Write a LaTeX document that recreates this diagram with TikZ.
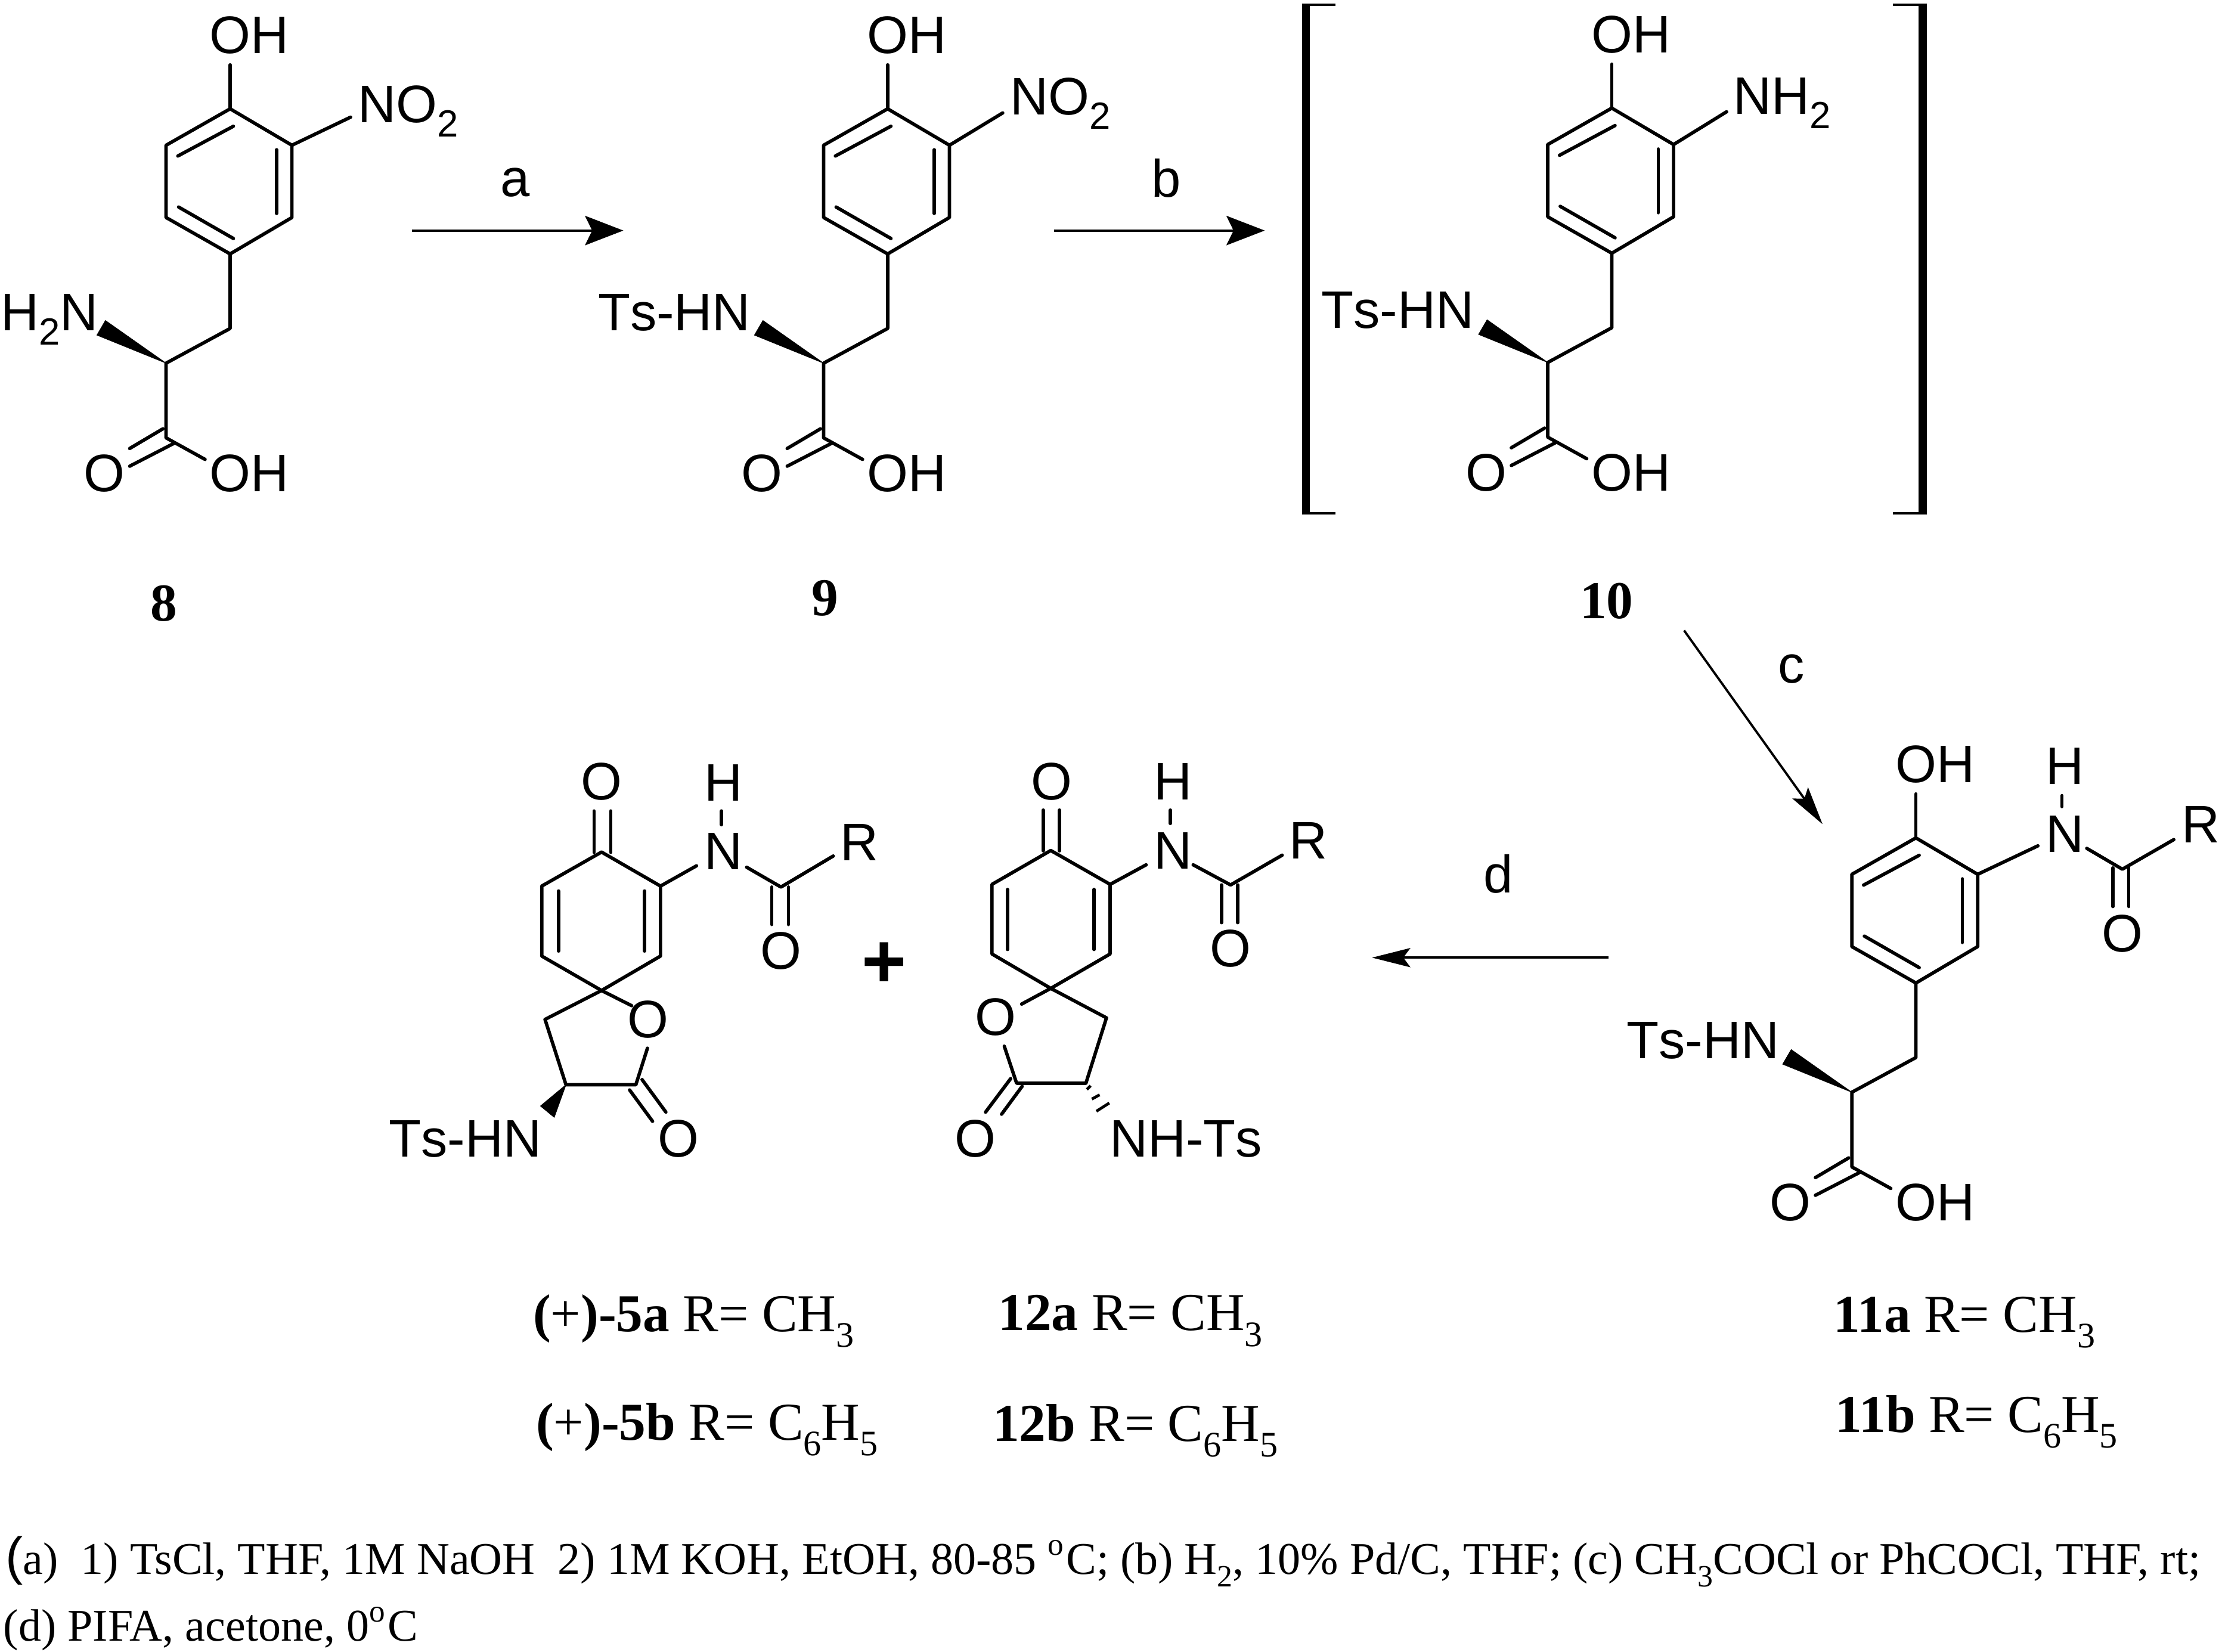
\documentclass[tikz,border=0pt]{standalone}
\usepackage{fontspec}
\setmainfont{Liberation Serif}
\newfontfamily\chemfont[Kerning=Off]{Liberation Sans}
\usetikzlibrary{arrows.meta}
\newcommand{\csub}[1]{\raisebox{-0.1cm}{\fontsize{7.6}{9}\selectfont #1}}
\newcommand{\tsub}[1]{\raisebox{-0.11cm}{\fontsize{7.2}{8}\selectfont #1}}
\newcommand{\nsub}[1]{\raisebox{-0.09cm}{\fontsize{6.2}{7}\selectfont #1}}
\tikzset{
  bond/.style={line width=.024cm,line cap=round,line join=round},
  wedgebond/.style={fill=black,draw=black,line width=.004cm,line join=miter},
  hashbar/.style={line width=.02cm},
  chemc/.style={font={\chemfont\fontsize{10.6}{12}\selectfont},inner sep=0pt,outer sep=0pt,anchor=base},
  chem/.style={font={\chemfont\fontsize{10.6}{12}\selectfont},inner sep=0pt,outer sep=0pt,anchor=base west,xshift=-0.01cm},
  plussign/.style={font={\chemfont\bfseries\fontsize{15.4}{18}\selectfont},inner sep=0pt,anchor=base},
  cmpd/.style={font={\fontsize{10.7}{13}\selectfont},inner sep=0pt,outer sep=0pt,anchor=base west},
  note/.style={font={\fontsize{9.1}{11}\selectfont},inner sep=0pt,outer sep=0pt,anchor=base west},
  rxnwide/.style={-{Stealth[length=.27cm,width=.207cm,inset=.05cm]},line width=.018cm},
  rxnslim/.style={-{Stealth[length=.27cm,width=.135cm,inset=.05cm]},line width=.016cm},
  brackv/.style={line width=.055cm},
  brackh/.style={line width=.018cm},
  arylacid/.pic={
    \coordinate (a1) at (162.4,76.8);
    \coordinate (a2) at (206,102.5);
    \coordinate (a3) at (206,153.5);
    \coordinate (a4) at (162.4,179.2);
    \coordinate (a5) at (117.2,153.5);
    \coordinate (a6) at (117.2,102.5);
    \coordinate (ohb) at (162.4,45.8);
    \coordinate (ch2) at (162.4,231.8);
    \coordinate (ch) at (117.2,256.3);
    \coordinate (co) at (117.2,309);
    \coordinate (w1) at (74.4,226.2);
    \coordinate (w2) at (68.4,236.5);
    \coordinate (d1a) at (125.5,110.1);
    \coordinate (d1b) at (164.7,89.1);
    \coordinate (d2a) at (195.2,105.7);
    \coordinate (d2b) at (195.2,150.6);
    \coordinate (d3a) at (126,146.1);
    \coordinate (d3b) at (164.7,168.3);
    \coordinate (oa) at (122.5,313);
    \coordinate (ob) at (91.5,329);
    \coordinate (oc) at (115,302.6);
    \coordinate (od) at (91.5,316.5);
    \coordinate (oh2) at (144.7,324.2);
    \draw[bond] (a1) -- (a2) -- (a3) -- (a4) -- (a5) -- (a6) -- cycle;
    \draw[bond] (a1) -- (ohb);
    \draw[bond] (a4) -- (ch2) -- (ch) -- (co) -- (oh2);
    \draw[bond] (d1a) -- (d1b);
    \draw[bond] (d2a) -- (d2b);
    \draw[bond] (d3a) -- (d3b);
    \draw[bond] (oa) -- (ob);
    \draw[bond] (oc) -- (od);
    \fill[wedgebond] (ch) -- (w1) -- (w2) -- cycle;
    \node[chem] (ohtop) at (149,37.8) {OH};
    \node[chemc] (ketO) at (73.8,346.8) {O};
    \node[chem] (acidOH) at (149,346.8) {OH};
  }
}
\begin{document}
\begin{tikzpicture}[x=0.01cm,y=-0.01cm]
\path[fill=white,use as bounding box] (0,0) rectangle (1568,1165.8);

% compounds 8, 9, 10, 11
\pic (m8) at (0,0) {arylacid};
\pic (m9) at (464,0) {arylacid};
\pic (mt) at (975,-0.5) {arylacid};
\pic (me) at (1189.6,514.5) {arylacid};

% substituents of 8
\coordinate (n8end) at (247.4,82.7);
\draw[bond] (m8a2) -- (n8end);
\node[chem] (no8) at (253.8,86.5) {NO\csub{2}};
\node[chem] (h2n8) at (1.5,233.2) {H\csub{2}N};
\node[cmpd] (lab8) at (106.3,438.3) {\bfseries 8};

% substituents of 9
\coordinate (n9end) at (707.6,79.7);
\draw[bond] (m9a2) -- (n9end);
\node[chem] (no9) at (713.8,81.2) {NO\csub{2}};
\node[chem] (ts9) at (423,233.2) {Ts-HN};
\node[cmpd] (lab9) at (572.7,434.5) {\bfseries 9};

% substituents of 10
\coordinate (n10end) at (1218.4,78.9);
\draw[bond] (mta2) -- (n10end);
\node[chem] (nh10) at (1224.2,80.5) {NH\csub{2}};
\node[chem] (ts10) at (933.4,231.8) {Ts-HN};
\node[cmpd] (lab10) at (1115,436.3) {\bfseries 10};

% brackets
\coordinate (bl1) at (921.6,2.6);
\coordinate (bl2) at (921.6,363.2);
\coordinate (bl3) at (921.6,3.4);
\coordinate (bl4) at (942.4,3.4);
\coordinate (bl5) at (921.6,362.3);
\coordinate (bl6) at (942.4,362.3);
\coordinate (br1) at (1356.8,2.6);
\coordinate (br2) at (1356.8,363.2);
\coordinate (br3) at (1356.8,3.4);
\coordinate (br4) at (1335.9,3.4);
\coordinate (br5) at (1356.8,362.3);
\coordinate (br6) at (1335.9,362.3);
\draw[brackv] (bl1) -- (bl2);
\draw[brackh] (bl3) -- (bl4);
\draw[brackh] (bl5) -- (bl6);
\draw[brackv] (br1) -- (br2);
\draw[brackh] (br3) -- (br4);
\draw[brackh] (br5) -- (br6);

% substituents of 11
\coordinate (e1) at (1438.1,596.9);
\coordinate (e2) at (1472.6,598.7);
\coordinate (e3) at (1497.7,613.4);
\coordinate (e4) at (1534,592.5);
\coordinate (e5) at (1491,612.5);
\coordinate (e6) at (1491,639.7);
\coordinate (e7) at (1502.2,612.5);
\coordinate (e8) at (1502.2,639.7);
\coordinate (e9) at (1455,561.5);
\coordinate (e10) at (1455,569.2);
\draw[bond] (mea2) -- (e1);
\draw[bond] (e2) -- (e3) -- (e4);
\draw[bond] (e5) -- (e6);
\draw[bond] (e7) -- (e8);
\draw[bond] (e9) -- (e10);
\node[chem] (n11) at (1444.6,601.3) {N};
\node[chem] (h11) at (1444.6,553.5) {H};
\node[chem] (r11) at (1540.5,594.8) {R};
\node[chemc] (o11) at (1497.7,671.6) {O};
\node[chem] (ts11) at (1148.9,746.8) {Ts-HN};

% spiro compound 5
\coordinate (s1) at (424.5,601.3);
\coordinate (s2) at (466.1,625.3);
\coordinate (s3) at (466.1,674.7);
\coordinate (s4) at (424.5,699);
\coordinate (s5) at (382.3,674.7);
\coordinate (s6) at (382.3,625.3);
\coordinate (si1) at (394.1,628.8);
\coordinate (si2) at (394.1,671.1);
\coordinate (si3) at (454.9,628.8);
\coordinate (si4) at (454.9,671.1);
\coordinate (so1) at (419.2,572.3);
\coordinate (so2) at (419.2,601.5);
\coordinate (so3) at (431,572.3);
\coordinate (so4) at (431,601.5);
\coordinate (sn1) at (491.5,611);
\coordinate (sn2) at (509.2,572.3);
\coordinate (sn3) at (509.2,582);
\coordinate (sc1) at (526.9,612);
\coordinate (sc2) at (551.1,626);
\coordinate (sc3) at (588,604.1);
\coordinate (sc4) at (544.6,626);
\coordinate (sc5) at (544.6,652.4);
\coordinate (sc6) at (556.4,626);
\coordinate (sc7) at (556.4,652.4);
\coordinate (sl1) at (445.7,709.7);
\coordinate (sl2) at (384.6,719.4);
\coordinate (sl3) at (399.4,765.5);
\coordinate (sl4) at (448.7,765.5);
\coordinate (sl5) at (456.9,739.7);
\coordinate (sl6) at (453.1,761.9);
\coordinate (sl7) at (469.9,784.8);
\coordinate (sl8) at (444.3,769.2);
\coordinate (sl9) at (460.5,791.3);
\coordinate (sw1) at (381.4,780.5);
\coordinate (sw2) at (391.1,788.5);
\draw[bond] (s1) -- (s2) -- (s3) -- (s4) -- (s5) -- (s6) -- cycle;
\draw[bond] (si1) -- (si2);
\draw[bond] (si3) -- (si4);
\draw[bond] (so1) -- (so2);
\draw[bond] (so3) -- (so4);
\draw[bond] (s2) -- (sn1);
\draw[bond] (sn2) -- (sn3);
\draw[bond] (sc1) -- (sc2) -- (sc3);
\draw[bond] (sc4) -- (sc5);
\draw[bond] (sc6) -- (sc7);
\draw[bond] (s4) -- (sl1);
\draw[bond] (s4) -- (sl2) -- (sl3) -- (sl4) -- (sl5);
\draw[bond] (sl6) -- (sl7);
\draw[bond] (sl8) -- (sl9);
\fill[wedgebond] (sl3) -- (sw1) -- (sw2) -- cycle;
\node[chemc] (so) at (424.5,564.6) {O};
\node[chem] (snN) at (498.2,613.7) {N};
\node[chem] (snH) at (498.2,565.2) {H};
\node[chem] (sR) at (594,607.3) {R};
\node[chemc] (scO) at (551.1,684) {O};
\node[chemc] (srO) at (457.4,732.2) {O};
\node[chemc] (slO) at (478.8,816.6) {O};
\node[chem] (sTs) at (275.4,816.6) {Ts-HN};

\node[plussign] (plus) at (624,697) {+};

% spiro compound 12
\coordinate (t1) at (741.5,600.2);
\coordinate (t2) at (783.4,624.1);
\coordinate (t3) at (783.4,673.2);
\coordinate (t4) at (741.5,697.5);
\coordinate (t5) at (700,673.2);
\coordinate (t6) at (700,624.1);
\coordinate (ti1) at (711,627.7);
\coordinate (ti2) at (711,670);
\coordinate (ti3) at (772.1,627.7);
\coordinate (ti4) at (772.1,670);
\coordinate (to1) at (736.1,571.7);
\coordinate (to2) at (736.1,600.4);
\coordinate (to3) at (747.7,571.7);
\coordinate (to4) at (747.7,600.4);
\coordinate (tn1) at (808.8,610.3);
\coordinate (tn2) at (825.9,571.7);
\coordinate (tn3) at (825.9,581.1);
\coordinate (tc1) at (842,610.3);
\coordinate (tc2) at (868.4,624.5);
\coordinate (tc3) at (904.8,603.5);
\coordinate (tc4) at (862,624.5);
\coordinate (tc5) at (862,651.1);
\coordinate (tc6) at (873.5,624.5);
\coordinate (tc7) at (873.5,651.1);
\coordinate (tl1) at (720.9,708.6);
\coordinate (tl2) at (780.8,718.3);
\coordinate (tl3) at (766.3,764.4);
\coordinate (tl4) at (717.4,764.4);
\coordinate (tl5) at (708.7,738.3);
\coordinate (tl6) at (713.2,761.2);
\coordinate (tl7) at (695.5,784.8);
\coordinate (tl8) at (721.3,766.6);
\coordinate (tl9) at (706.8,786.3);
\coordinate (th1) at (767,768.8);
\coordinate (th2) at (769.6,766.2);
\coordinate (th3) at (770.5,775.6);
\coordinate (th4) at (776,772.6);
\coordinate (th5) at (773.7,784.2);
\coordinate (th6) at (782.8,778.4);
\draw[bond] (t1) -- (t2) -- (t3) -- (t4) -- (t5) -- (t6) -- cycle;
\draw[bond] (ti1) -- (ti2);
\draw[bond] (ti3) -- (ti4);
\draw[bond] (to1) -- (to2);
\draw[bond] (to3) -- (to4);
\draw[bond] (t2) -- (tn1);
\draw[bond] (tn2) -- (tn3);
\draw[bond] (tc1) -- (tc2) -- (tc3);
\draw[bond] (tc4) -- (tc5);
\draw[bond] (tc6) -- (tc7);
\draw[bond] (t4) -- (tl1);
\draw[bond] (t4) -- (tl2) -- (tl3) -- (tl4) -- (tl5);
\draw[bond] (tl6) -- (tl7);
\draw[bond] (tl8) -- (tl9);
\draw[hashbar] (th1) -- (th2);
\draw[hashbar] (th3) -- (th4);
\draw[hashbar] (th5) -- (th6);
\node[chemc] (tO) at (742.2,564.2) {O};
\node[chem] (tnN) at (815.3,613.1) {N};
\node[chem] (tnH) at (815.3,564.2) {H};
\node[chem] (tR) at (910.6,606.2) {R};
\node[chemc] (tcO) at (868.4,682.2) {O};
\node[chemc] (trO) at (702.6,730.5) {O};
\node[chemc] (tlO) at (688.4,816.6) {O};
\node[chem] (tTs) at (784,816.6) {NH-Ts};

% reaction arrows
\coordinate (ra1) at (290.8,162.7);
\coordinate (ra2) at (439.9,162.7);
\coordinate (rb1) at (743.9,162.7);
\coordinate (rb2) at (892.5,162.7);
\coordinate (rc1) at (1188.4,444.9);
\coordinate (rc2) at (1286.1,581.6);
\coordinate (rd1) at (1135,675.8);
\coordinate (rd2) at (968.2,675.8);
\draw[rxnwide] (ra1) -- (ra2);
\draw[rxnwide] (rb1) -- (rb2);
\draw[rxnslim] (rc1) -- (rc2);
\draw[rxnslim] (rd1) -- (rd2);
\node[chem] (la) at (354,138.7) {a};
\node[chem] (lb) at (813.8,139) {b};
\node[chem] (lc) at (1255.7,482.1) {c};
\node[chem] (ld) at (1048,629.9) {d};

% compound captions
\node[cmpd] (c5a) at (376.2,939.5) {\textbf{(}+\textbf{)-5a} R= CH\tsub{3}};
\node[cmpd] (c5b) at (378.3,1016.3) {\textbf{(}+\textbf{)-5b} R= C\tsub{6}H\tsub{5}};
\node[cmpd] (c12a) at (704.5,939) {\textbf{12a} R= CH\tsub{3}};
\node[cmpd] (c12b) at (700.5,1017.2) {\textbf{12b} R= C\tsub{6}H\tsub{5}};
\node[cmpd] (c11a) at (1294,940.2) {\textbf{11a} R= CH\tsub{3}};
\node[cmpd] (c11b) at (1295.2,1010.8) {\textbf{11b} R= C\tsub{6}H\tsub{5}};

% conditions
\node[note] (n1) at (4,1110.7) {{\chemfont\fontsize{10.5}{12}\selectfont (}a)\ \ 1) TsCl, THF, 1M NaOH\ \ 2) 1M KOH, EtOH, 80-85 \textsuperscript{o}C; (b) H\nsub{2}, 10\% Pd/C, THF; (c) CH\nsub{3}COCl or PhCOCl, THF, rt;};
\node[note] (n2) at (2.5,1158) {(d) PIFA, acetone, 0\textsuperscript{o}C};
\end{tikzpicture}
\end{document}
